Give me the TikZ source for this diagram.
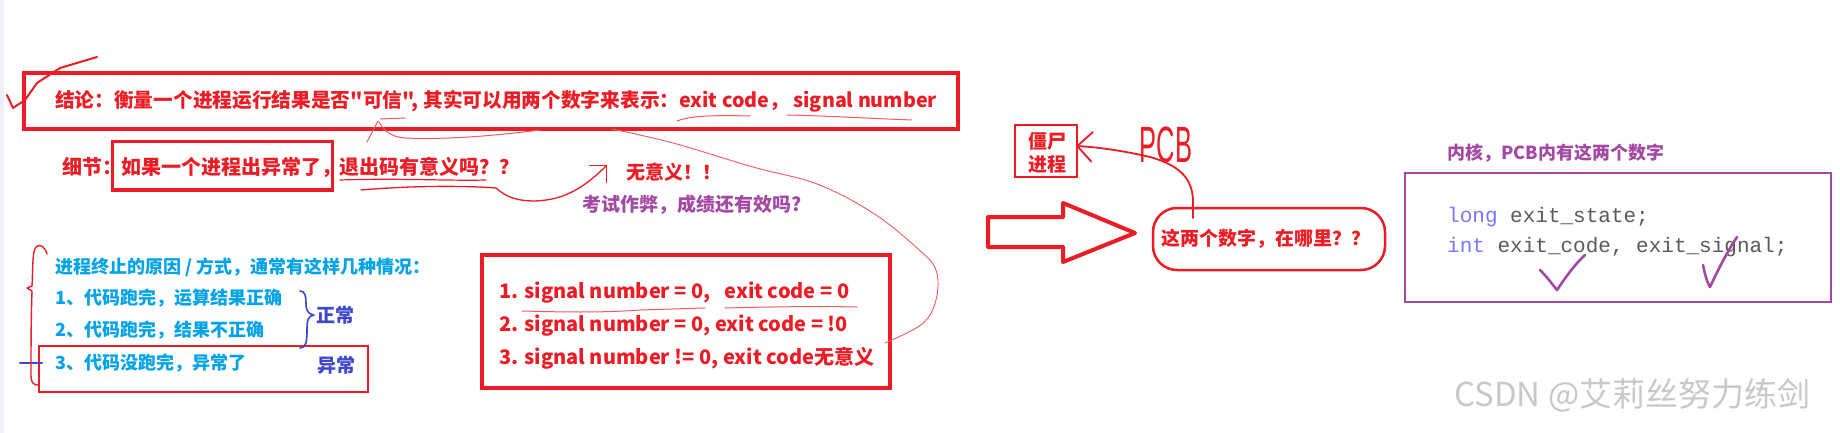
\documentclass[tikz,border=0pt]{standalone}
\usepackage{fontspec}
\setmainfont{Noto Sans CJK SC}
\newfontfamily\cjk{Noto Sans CJK SC}
\newfontfamily\codefont{Liberation Mono}
\newfontfamily\handfont{Liberation Sans}
\usetikzlibrary{arrows.meta}
\definecolor{myred}{RGB}{237,28,36}
\definecolor{thinred}{RGB}{240,90,95}
\definecolor{myblue}{RGB}{0,162,232}
\definecolor{myindigo}{RGB}{63,72,204}
\definecolor{mypurple}{RGB}{163,73,164}
\definecolor{codegray}{RGB}{90,90,90}
\definecolor{codekw}{RGB}{120,120,255}
\definecolor{wmgray}{RGB}{200,200,200}
\definecolor{edgestrip}{RGB}{236,239,246}
\tikzset{
  tbig/.style={font=\cjk\fontsize{20}{24}\selectfont\bfseries, inner sep=0pt, anchor=west},
  tmain/.style={font=\cjk\fontsize{19.7}{24}\selectfont\bfseries, inner sep=0pt, anchor=west},
  tmid/.style={font=\cjk\fontsize{19}{23}\selectfont\bfseries, inner sep=0pt, anchor=west},
  tsig/.style={font=\cjk\fontsize{20}{24}\selectfont\bfseries, inner sep=0pt, anchor=west},
  tsmall/.style={font=\cjk\fontsize{18}{22}\selectfont\bfseries, inner sep=0pt, anchor=west},
  frame/.style={draw=myred, inner sep=0pt},
  hand/.style={draw=myred, line width=1.6pt, line cap=round, line join=round},
  thinhand/.style={draw=thinred, line width=1pt, line cap=round, line join=round},
  purplehand/.style={draw=mypurple, line width=2.6pt, line cap=round, line join=round},
  indigohand/.style={draw=myindigo, line width=1.6pt, line cap=round, line join=round},
}
\begin{document}
\begin{tikzpicture}[x=1pt,y=-1pt]
\useasboundingbox (0,0) rectangle (1840,433);
\fill[white] (0,0) rectangle (1840,433);
\fill[edgestrip] (0,0) rectangle (4,433);

% ---- check mark top-left
\draw[hand, line width=2pt] (7,95) -- (13,108) -- (25,100) -- (37,83) -- (60,68) -- (97,57);

% ---- main conclusion box
\node[frame, line width=4pt, minimum width=934pt, minimum height=56pt] (mainbox) at (491,101) {};
\node[tmain, text=myred] (concl) at (55,101) {结论：衡量一个进程运行结果是否"可信", 其实可以用两个数字来表示：exit code， signal number};
% underlines in main box
\draw[thinhand] (677,121) .. controls (690,116) and (710,115) .. (750,116);
\draw[thinhand] (787,115) .. controls (830,116) and (860,118) .. (912,120);
\draw[thinhand] (380,119) -- (405,118);
\draw[thinhand] (378,121) -- (367,142);
\draw[thinhand] (379,122) .. controls (385,132) and (392,137) .. (405,138) .. controls (450,140) and (500,135) .. (540,130);

% ---- detail line
\node[tbig, text=myred] (detail) at (62,167) {细节：};
\node[frame, line width=3pt, minimum width=220pt, minimum height=48pt] (detbox) at (222,166) {};
\node[tbig, text=myred] (detq) at (121,167) {如果一个进程出异常了，};
\node[tbig, text=myred] (detr) at (339,167) {退出码有意义吗？？};
\node[tmid, text=myred] (nomean) at (626,172) {无意义！！};
\node[tmid, text=mypurple] (exam) at (582,205) {考试作弊，成绩还有效吗?};
\coordinate (nmtip) at (607,165);
\draw[hand, line width=1.2pt] (340,180) .. controls (400,178) and (450,181) .. (486,180);
\draw[hand, line width=1.3pt, -{Straight Barb[length=12pt,width=24pt]}] (361,190) .. controls (420,185) and (470,186) .. (496,188)
   .. controls (505,196) and (515,201) .. (535,201) .. controls (560,200) and (580,192) .. (nmtip);

% ---- left list
\node[tsmall, text=myblue] (reason) at (55,267) {进程终止的原因 / 方式，通常有这样几种情况：};
\node[tsmall, text=myblue] (it1) at (55,298) {1、代码跑完，运算结果正确};
\node[tsmall, text=myblue] (it2) at (55,330) {2、代码跑完，结果不正确};
\node[tsmall, text=myblue] (it3) at (55,363) {3、代码没跑完，异常了};
\node[tmid, text=myindigo] (normal) at (316,315) {正常};
\node[tmid, text=myindigo] (abnormal) at (317,365) {异常};
\node[frame, line width=2.5pt, minimum width=329pt, minimum height=46pt] (box3) at (203.5,369) {};
% indigo brace
\draw[indigohand] (300,291) .. controls (305,291) and (306,296) .. (306,303) .. controls (306,311) and (308,314) .. (314,315)
   .. controls (308,316) and (307,320) .. (307,330) .. controls (307,342) and (306,348) .. (300,348);
\draw[indigohand, line width=2pt] (20,363) -- (42,363);
% red left brace
\draw[hand, line width=1.4pt] (47,254) .. controls (45,247) and (40,243) .. (36,247) .. controls (32,252) and (33,270) .. (32,286)
   -- (27,288) -- (32,291) .. controls (31,320) and (31,350) .. (31,376) .. controls (31,382) and (33,385) .. (38,385);

% ---- signal box
\node[frame, line width=3.5pt, minimum width=408pt, minimum height=133pt] (sigbox) at (686,321.5) {};
\node[tsig, text=myred] (s1) at (499,293) {1. signal number = 0,\ \ \ exit code = 0};
\node[tsig, text=myred] (s2) at (499,326) {2. signal number = 0, exit code = !0};
\node[tsig, text=myred] (s3) at (499,358) {3. signal number != 0, exit code无意义};
\draw[thinhand] (522,311) .. controls (560,312) and (600,313) .. (640,310) -- (705,308);
\draw[thinhand] (725,308) .. controls (760,307) and (820,306) .. (857,307);

% long thin curve from main box to signal box
\coordinate (cstart) at (612,129);
\coordinate (cend) at (885,343);
\draw[thinhand, line width=0.9pt] plot[smooth, tension=0.6] coordinates {(cstart) (673,143) (753,167) (817,184) (873,213) (917,248) (936,270) (936,300) (922,324) (cend)};

% ---- big hollow arrow
\draw[draw=myred, line width=4pt, line join=round] (988,217) -- (1063,217) -- (1063,203) -- (1135,233) -- (1063,262) -- (1063,247) -- (988,247) -- cycle;

% ---- zombie box and question box
\node[draw=myred, line width=2.5pt, minimum width=62pt, minimum height=52pt, inner sep=0pt] (zombie) at (1046,151) {};
\node[font=\cjk\fontsize{19}{23}\selectfont\bfseries, text=myred, align=center, inner sep=0pt] (ztext) at (1047,153) {僵尸\\进程};
\node[draw=myred, line width=2.5pt, rounded corners=24pt, minimum width=232pt, minimum height=62pt, inner sep=0pt] (where) at (1269,239) {};
\node[font=\cjk\fontsize{19}{23}\selectfont\bfseries, text=myred, inner sep=0pt] (wtext) at (1266,239) {这两个数字，在哪里？？};
\coordinate (pcbstart) at (1193,218);
\coordinate (ztip) at (1076,146);
\draw[hand, line width=1.8pt, -{Straight Barb[length=15pt,width=30pt]}] (pcbstart) -- (1193,200) .. controls (1192,180) and (1182,166) .. (1150,157) .. controls (1120,150) and (1095,147) .. (ztip);
\node[font=\handfont\fontsize{30}{30}\selectfont, text=myred, xscale=0.85, yscale=1.7, inner sep=0pt] (pcb) at (1166,145) {PCB};

% ---- kernel box
\node[tsmall, text=mypurple] (ktitle) at (1447,153) {内核，PCB内有这两个数字};
\node[draw=mypurple, line width=2.5pt, minimum width=426pt, minimum height=129pt, inner sep=0pt] (kernel) at (1618,237.5) {};
\node[font=\codefont\fontsize{21}{25}\selectfont, text=codegray, inner sep=0pt, anchor=west] (c1) at (1447,217) {\textcolor{codekw}{long} exit\_state;};
\node[font=\codefont\fontsize{21}{25}\selectfont, text=codegray, inner sep=0pt, anchor=west] (c2) at (1447,247) {\textcolor{codekw}{int} exit\_code, exit\_signal;};
\draw[purplehand] (1540,270) .. controls (1548,278) and (1552,284) .. (1557,290) .. controls (1565,278) and (1575,264) .. (1585,255);
\draw[purplehand] (1703,265) .. controls (1705,275) and (1707,282) .. (1710,287) .. controls (1718,270) and (1727,252) .. (1737,237);

% ---- watermark
\node[font=\cjk\fontsize{33}{36}\selectfont, text=wmgray, inner sep=0pt, anchor=west] (wm) at (1454,395) {CSDN @艾莉丝努力练剑};
\end{tikzpicture}
\end{document}
